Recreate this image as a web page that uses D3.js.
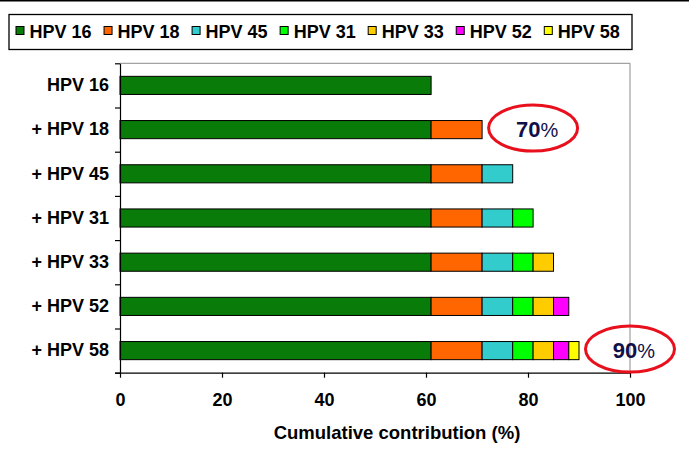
<!DOCTYPE html>
<html>
<head>
<meta charset="utf-8">
<script src="https://cdn.jsdelivr.net/npm/d3@7"></script>
<style>
  html, body { margin: 0; padding: 0; background: #fff; }
  svg { display: block; font-family: "Liberation Sans", Arial, sans-serif; }
</style>
</head>
<body>
<svg id="chart" width="689" height="453"></svg>
<script>
// ---- data ----
const categories = ["HPV 16", "+ HPV 18", "+ HPV 45", "+ HPV 31", "+ HPV 33", "+ HPV 52", "+ HPV 58"];
const seriesNames = ["HPV 16", "HPV 18", "HPV 45", "HPV 31", "HPV 33", "HPV 52", "HPV 58"];
const contributions = [61, 10, 6, 4, 4, 3, 2];   // % added by each type
const seriesColors = ["#087b08", "#ff6600", "#33cccc", "#00ff00", "#ffcc00", "#ff00ff", "#ffff00"];
const xTicks = [0, 20, 40, 60, 80, 100];
const xTitle = "Cumulative contribution (%)";
const callouts = [
  { category: "+ HPV 18", at: 81, label: "70" },
  { category: "+ HPV 58", at: 100, label: "90" }
];

// ---- layout ----
const svg = d3.select("#chart");
const pLeft = 120, pRight = 630, pTop = 63.3, pBottom = 372.7;

const x = d3.scaleLinear().domain([0, 100]).range([pLeft, pRight]);
const y = d3.scaleBand().domain(categories).range([pTop, pBottom]).paddingInner(0.59).paddingOuter(0.295);
const yb = d3.scaleLinear().domain([0, categories.length]).range([pTop, pBottom]);
const color = d3.scaleOrdinal().domain(seriesNames).range(seriesColors);

// top rule
svg.append("line").attr("x1", 0).attr("x2", 689).attr("y1", 0.75).attr("y2", 0.75)
  .attr("stroke", "#000").attr("stroke-width", 1.5);

// plot frame (grey top/right)
svg.append("path")
  .attr("d", `M${pLeft},${pTop}H${pRight}V${pBottom}`)
  .attr("fill", "none").attr("stroke", "#8c8c8c").attr("stroke-width", 1);

// stacked data per row
const rows = categories.map((c, i) => {
  let acc = 0;
  return seriesNames.slice(0, i + 1).map((s, j) => {
    const seg = { cat: c, series: s, x0: acc, x1: acc + contributions[j] };
    acc += contributions[j];
    return seg;
  });
});

svg.append("g").selectAll("g").data(rows).join("g")
  .selectAll("rect").data(d => d).join("rect")
  .attr("x", d => x(d.x0))
  .attr("y", d => y(d.cat))
  .attr("width", d => x(d.x1) - x(d.x0))
  .attr("height", y.bandwidth())
  .attr("fill", d => color(d.series))
  .attr("stroke", "#000").attr("stroke-width", 1);

// y axis: boundary ticks
const yTickAxis = svg.append("g").attr("transform", `translate(${pLeft},0)`)
  .call(d3.axisLeft(yb).tickValues(d3.range(categories.length + 1)).tickSize(5).tickSizeOuter(0).tickFormat(""));
yTickAxis.selectAll("line, path").attr("stroke", "#000").attr("stroke-width", 1.2);

// y labels
const yLab = svg.append("g").attr("transform", `translate(${pLeft},0)`)
  .call(d3.axisLeft(y).tickSize(0).tickPadding(11));
yLab.select(".domain").remove();
yLab.selectAll("text").attr("font-size", 18).attr("font-weight", "bold")
  .attr("font-family", "Liberation Sans, Arial, sans-serif").attr("fill", "#000");

// x axis
const xAxis = svg.append("g").attr("transform", `translate(0,${pBottom})`)
  .call(d3.axisBottom(x).tickValues(xTicks).tickSize(5).tickPadding(16).tickSizeOuter(0));
xAxis.select(".domain").attr("d", `M${pLeft - 5},0.5H${pRight}`);
xAxis.selectAll("line, path").attr("stroke", "#000").attr("stroke-width", 1.2);
xAxis.selectAll("text").attr("font-size", 18).attr("font-weight", "bold")
  .attr("font-family", "Liberation Sans, Arial, sans-serif").attr("fill", "#000");

// x title
svg.append("text").attr("x", 397).attr("y", 438.5).attr("text-anchor", "middle")
  .attr("font-size", 18.5).attr("font-weight", "bold").attr("fill", "#000").text(xTitle);

// legend
const legend = svg.append("g");
legend.append("rect").attr("x", 9).attr("y", 14.5).attr("width", 623).attr("height", 35)
  .attr("fill", "#fff").attr("stroke", "#000").attr("stroke-width", 1.3);
let lx = 15.5;
seriesNames.forEach(s => {
  const g = legend.append("g").attr("transform", `translate(${lx},0)`);
  g.append("rect").attr("x", 0.5).attr("y", 26.5).attr("width", 8).attr("height", 8)
    .attr("fill", color(s)).attr("stroke", "#000").attr("stroke-width", 1);
  const t = g.append("text").attr("x", 14).attr("y", 37.7).attr("font-size", 18).attr("font-weight", "bold")
    .attr("fill", "#000").text(s);
  lx += 14 + t.node().getComputedTextLength() + 12;
});

// callouts
callouts.forEach(c => {
  const cy = y(c.category) + y.bandwidth() / 2 - 1.5;
  const cx = x(c.at);
  svg.append("ellipse").attr("cx", cx).attr("cy", cy).attr("rx", 44.5).attr("ry", 23)
    .attr("fill", "none").attr("stroke", "#e8101c").attr("stroke-width", 3);
  const t = svg.append("text").attr("x", cx + 4).attr("y", cy + 9).attr("text-anchor", "middle")
    .attr("fill", "#10104a");
  t.append("tspan").attr("font-size", 22).attr("font-weight", "bold").text(c.label);
  t.append("tspan").attr("font-size", 20).attr("font-weight", "normal").text("%");
});
</script>
</body>
</html>
